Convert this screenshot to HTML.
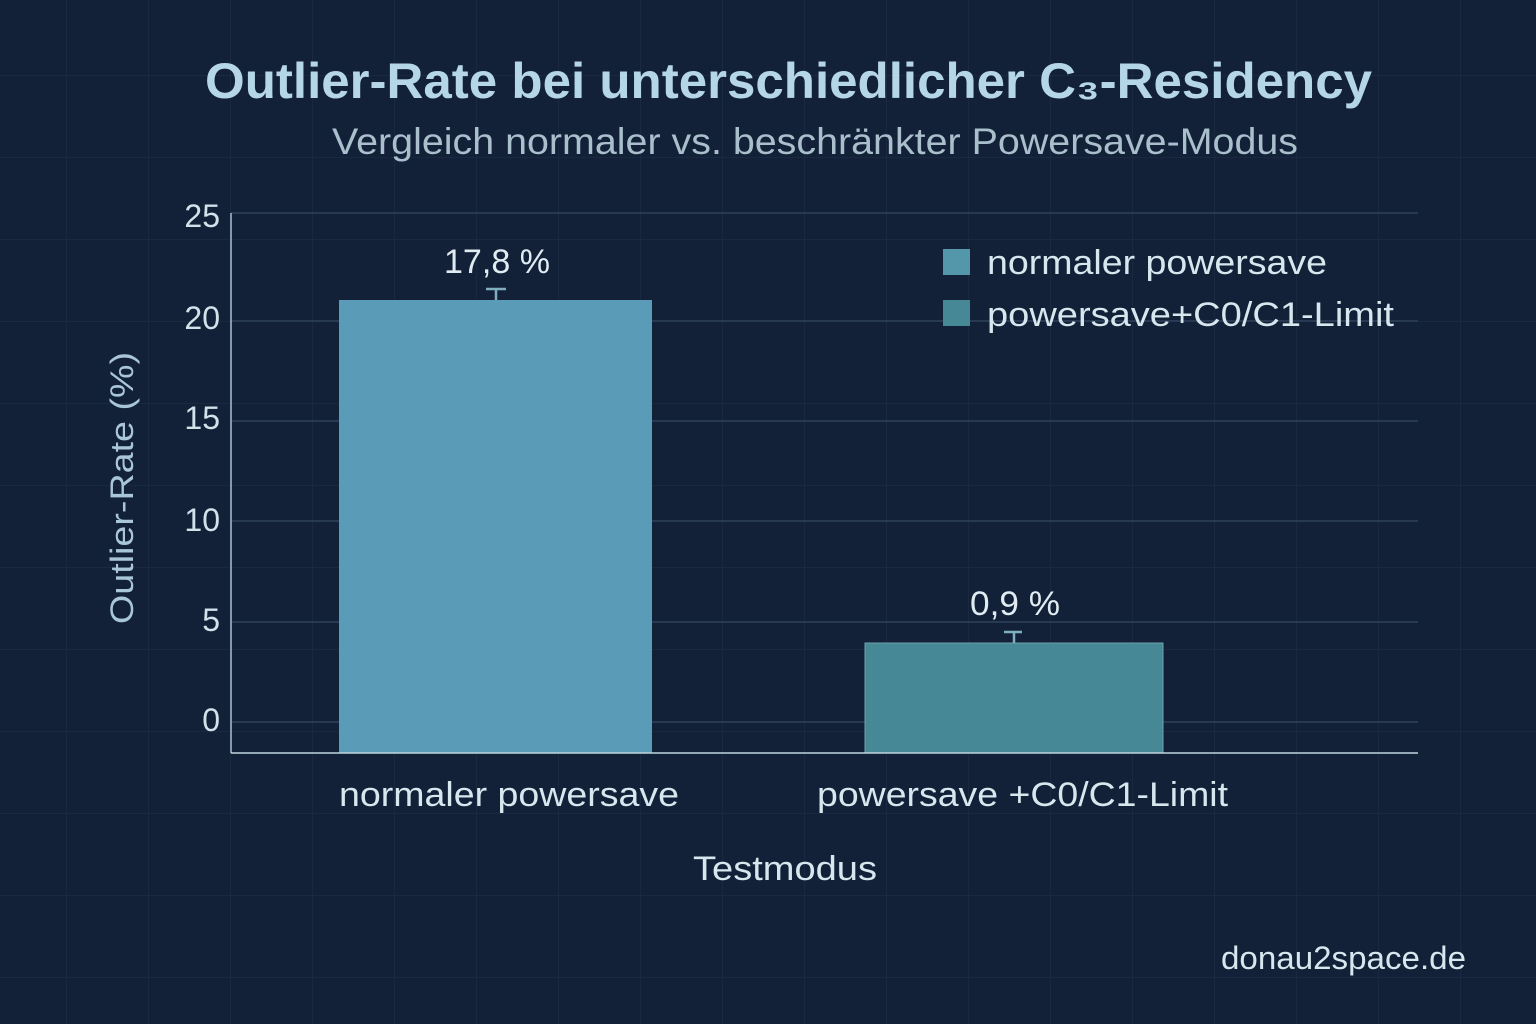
<!DOCTYPE html>
<html><head><style>
html,body{margin:0;padding:0;background:#13203a;}
svg{display:block}
text{font-family:"Liberation Sans",sans-serif;}
</style></head><body>
<svg width="1536" height="1024" viewBox="0 0 1536 1024" xmlns="http://www.w3.org/2000/svg">
<defs>
<pattern id="g" width="82" height="82" patternUnits="userSpaceOnUse" x="66" y="75">
<path d="M0 0H82M0 0V82" stroke="#283850" stroke-width="1" fill="none"/>
</pattern>
</defs>
<rect width="1536" height="1024" fill="#122038"/>
<rect width="1536" height="1024" fill="url(#g)" opacity="0.7"/>
<g stroke="#30425a" stroke-width="1.5">
<line x1="231" y1="213" x2="1418" y2="213"/>
<line x1="231" y1="321" x2="1418" y2="321"/>
<line x1="231" y1="421" x2="1418" y2="421"/>
<line x1="231" y1="521" x2="1418" y2="521"/>
<line x1="231" y1="622" x2="1418" y2="622"/>
<line x1="231" y1="722" x2="1418" y2="722"/>
</g>
<text x="205" y="98" textLength="1167" lengthAdjust="spacingAndGlyphs" font-size="50" font-weight="bold" fill="#b5d6e6">Outlier-Rate bei unterschiedlicher C₃-Residency</text>
<text x="332" y="154" textLength="966" lengthAdjust="spacingAndGlyphs" font-size="37" fill="#a9bfcc">Vergleich normaler vs. beschränkter Powersave-Modus</text>
<g font-size="32" fill="#d3e2ea" text-anchor="end">
<text x="220" y="227">25</text>
<text x="220" y="329">20</text>
<text x="220" y="429">15</text>
<text x="220" y="531">10</text>
<text x="220" y="631">5</text>
<text x="220" y="731">0</text>
</g>
<text transform="translate(133,488) rotate(-90)" text-anchor="middle" font-size="32" textLength="272" lengthAdjust="spacingAndGlyphs" fill="#a9c6d6">Outlier-Rate (%)</text>
<rect x="339" y="300" width="313" height="453" fill="#5a9bb8"/>
<rect x="865" y="643" width="298" height="110" fill="#468895" stroke="#6aa4b0" stroke-width="1"/>
<g stroke="#7fb0c0" stroke-width="2.5">
<line x1="486" y1="289" x2="506" y2="289"/><line x1="496" y1="289" x2="496" y2="300"/>
<line x1="1004" y1="632" x2="1022" y2="632"/><line x1="1014" y1="632" x2="1014" y2="643"/>
</g>
<line x1="231" y1="213" x2="231" y2="753" stroke="#a9bfcc" stroke-width="1.5"/>
<line x1="231" y1="753" x2="1418" y2="753" stroke="#c0d4de" stroke-width="1.5"/>
<text x="444" y="273" textLength="106" lengthAdjust="spacingAndGlyphs" font-size="34" fill="#e0ecf2">17,8 %</text>
<text x="970" y="615" textLength="90" lengthAdjust="spacingAndGlyphs" font-size="34" fill="#e0ecf2">0,9 %</text>
<rect x="943" y="249" width="27" height="26" fill="#5497aa"/>
<rect x="943" y="300" width="27" height="26" fill="#468895"/>
<text x="987" y="274" textLength="340" lengthAdjust="spacingAndGlyphs" font-size="34" fill="#d8e6ee">normaler powersave</text>
<text x="987" y="326" textLength="407" lengthAdjust="spacingAndGlyphs" font-size="34" fill="#d8e6ee">powersave+C0/C1-Limit</text>
<text x="339" y="806" textLength="340" lengthAdjust="spacingAndGlyphs" font-size="34" fill="#d8e6ee">normaler powersave</text>
<text x="817" y="806" textLength="411" lengthAdjust="spacingAndGlyphs" font-size="34" fill="#d8e6ee">powersave +C0/C1-Limit</text>
<text x="693" y="880" textLength="184" lengthAdjust="spacingAndGlyphs" font-size="34" fill="#d8e6ee">Testmodus</text>
<text x="1221" y="969" textLength="245" lengthAdjust="spacingAndGlyphs" font-size="32" fill="#d8e6ee">donau2space.de</text>
</svg>
</body></html>
